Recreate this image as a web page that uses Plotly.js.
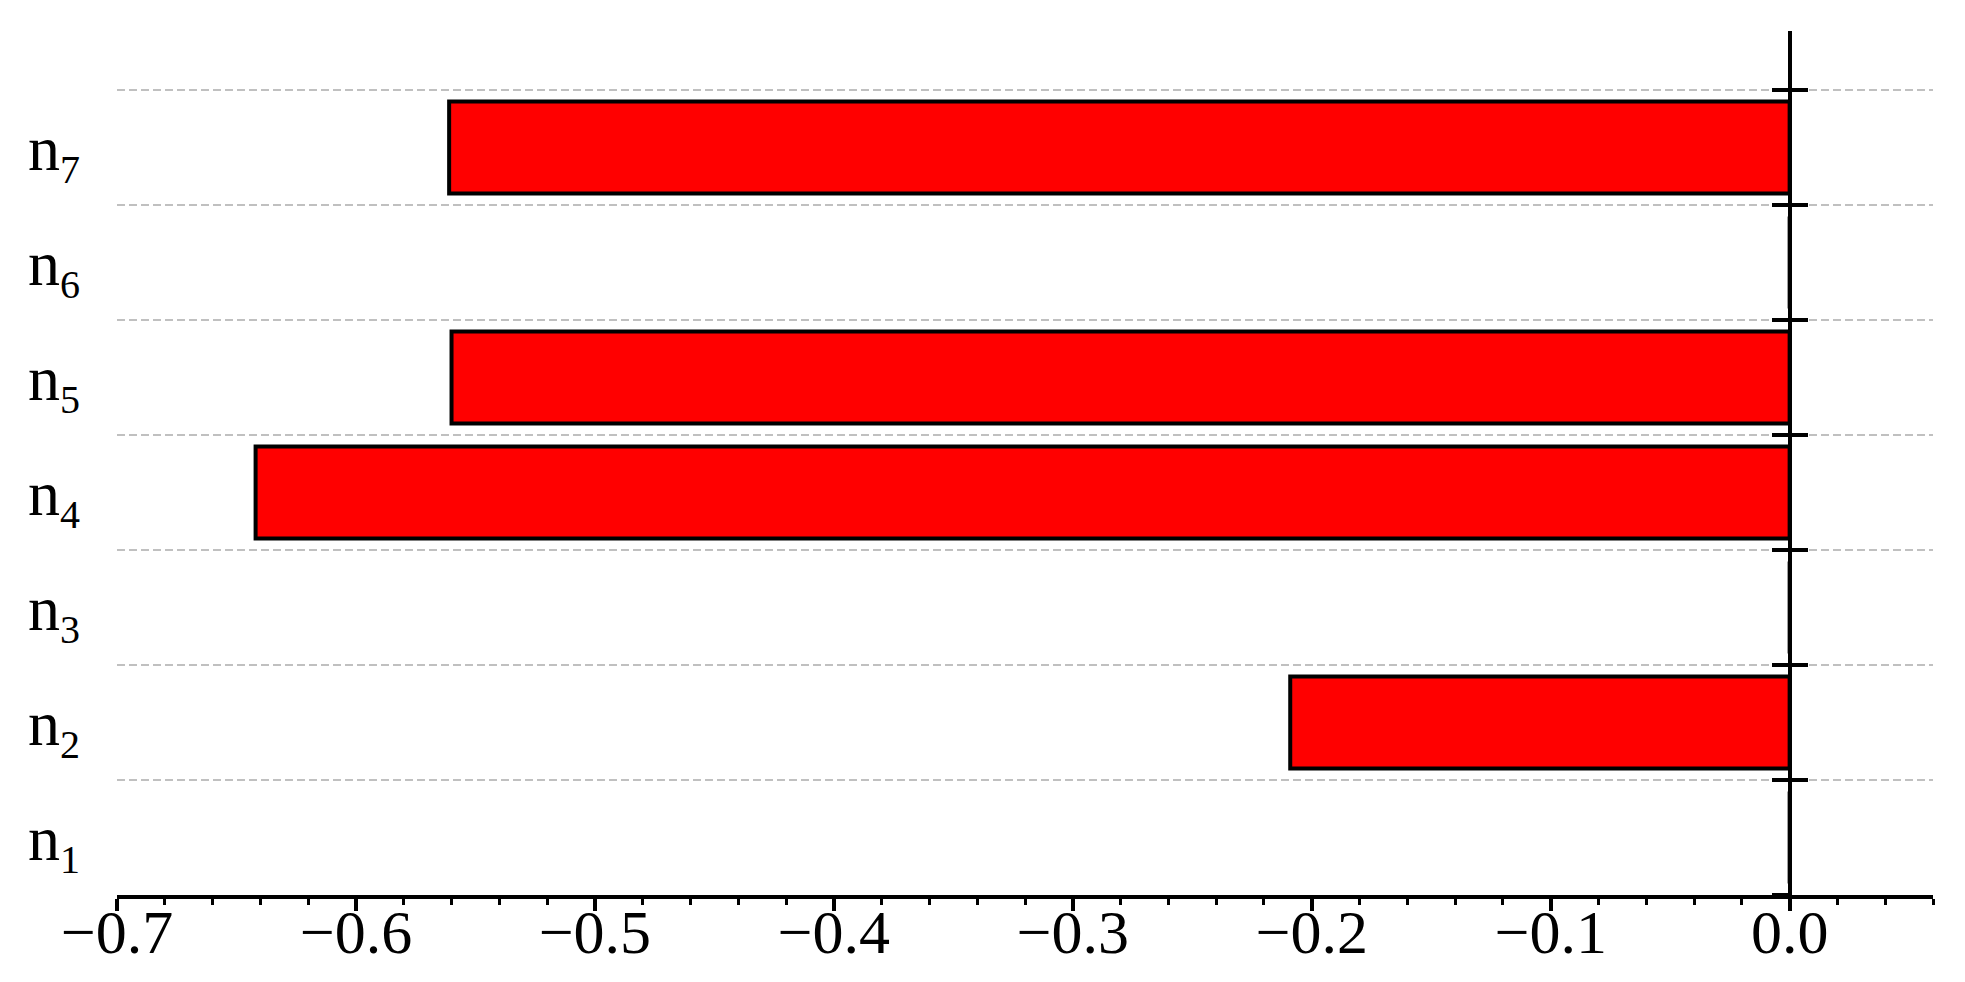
<!DOCTYPE html>
<html>
<head>
<meta charset="utf-8">
<script src="https://cdn.plot.ly/plotly-3.0.1.min.js"></script>
<style>html,body{margin:0;padding:0;background:#fff;}#chart{width:1965px;height:982px;}</style>
</head>
<body>
<div id="chart"></div>
<script>
var categories = ['n1', 'n2', 'n3', 'n4', 'n5', 'n6', 'n7'];
var subscripts = ['1', '2', '3', '4', '5', '6', '7'];
var values = [0, -0.209, 0, -0.642, -0.560, 0, -0.561];
var xTickVals = [-0.7, -0.6, -0.5, -0.4, -0.3, -0.2, -0.1, 0.0];
var xTickText = ['\u22120.7', '\u22120.6', '\u22120.5', '\u22120.4', '\u22120.3', '\u22120.2', '\u22120.1', '0.0'];

var categoryLabels = subscripts.map(function (s) {
  return 'n<sub><span style="font-size:40px">' + s + '</span></sub>';
});

var xMin = -0.7, xMax = 0.06;
var yRange = [-0.5, 7.013];

var traces = [
  {
    type: 'bar', orientation: 'h', x: values, y: categories,
    marker: {color: '#ff0000', line: {color: '#000000', width: 4}},
    width: 0.8, hoverinfo: 'x+y', showlegend: false
  },
  {
    type: 'scatter', mode: 'markers', x: values, y: categories, yaxis: 'y2',
    marker: {opacity: 0, size: 1}, hoverinfo: 'skip', showlegend: false
  },
  {
    type: 'scatter', mode: 'markers', x: values, y: categories, yaxis: 'y3',
    marker: {opacity: 0, size: 1}, hoverinfo: 'skip', showlegend: false
  }
];

var vAxisCommon = {
  type: 'category', categoryorder: 'array', categoryarray: categories,
  range: yRange, overlaying: 'y', anchor: 'free', position: (0 - xMin) / (xMax - xMin),
  showline: true, linecolor: '#000', linewidth: 4, tickson: 'boundaries',
  ticklen: 16, tickwidth: 4, tickcolor: '#000', showticklabels: false,
  showgrid: false, zeroline: false, fixedrange: true
};

var layout = {
  width: 1965, height: 982,
  margin: {l: 117, r: 32, t: 31, b: 87},
  paper_bgcolor: '#ffffff', plot_bgcolor: '#ffffff',
  font: {family: '"Liberation Serif", "Times New Roman", serif', color: '#000'},
  showlegend: false,
  xaxis: {
    range: [xMin, xMax], tickmode: 'array', tickvals: xTickVals, ticktext: xTickText,
    showline: true, linecolor: '#000', linewidth: 4,
    ticks: 'outside', ticklen: 12, tickwidth: 4, tickcolor: '#000',
    ticklabelstandoff: -32,
    minor: {dtick: 0.02, tick0: 0, ticks: 'outside', ticklen: 6, tickwidth: 3, tickcolor: '#000', showgrid: false},
    showgrid: false, zeroline: false,
    tickfont: {size: 62, family: '"Liberation Serif", "Times New Roman", serif', color: '#000'},
    fixedrange: true
  },
  yaxis: {
    type: 'category', categoryorder: 'array', categoryarray: categories,
    tickmode: 'array', tickvals: categories, ticktext: categoryLabels,
    range: yRange, tickson: 'boundaries',
    showline: false, ticks: '', ticklabelstandoff: 36,
    showgrid: true, gridcolor: '#c0c0c0', gridwidth: 1.5, griddash: '8px,4px',
    zeroline: false,
    tickfont: {size: 64, family: '"Liberation Serif", "Times New Roman", serif', color: '#000'},
    fixedrange: true
  },
  yaxis2: Object.assign({}, vAxisCommon, {ticks: 'outside'}),
  yaxis3: Object.assign({}, vAxisCommon, {ticks: 'inside'})
};

Plotly.newPlot('chart', traces, layout, {displayModeBar: false, staticPlot: true});
</script>
</body>
</html>
